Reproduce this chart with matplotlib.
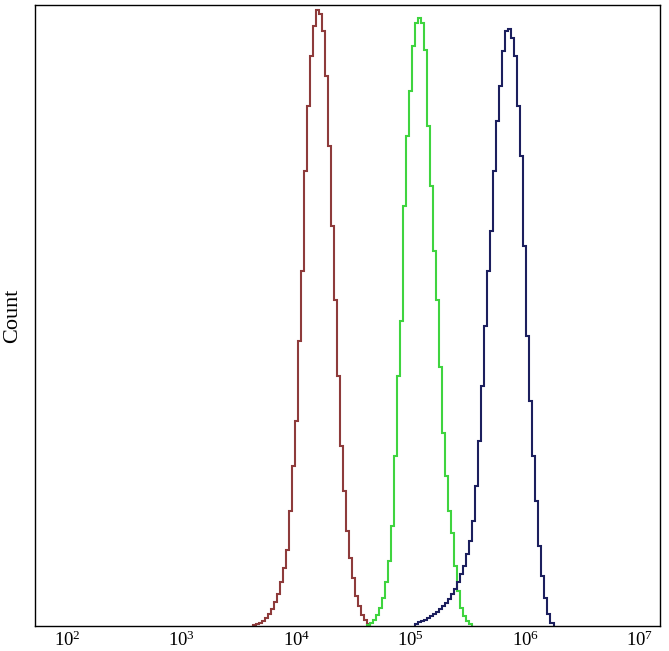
import numpy as np
import matplotlib
matplotlib.use("Agg")
import matplotlib.pyplot as plt
from matplotlib.ticker import FixedLocator, LogFormatterMathtext, NullLocator

# bin width in decades (log10) and first bin centre of each histogram
bin_width = 0.02618
red_start = 3.632
green_start = 4.627
blue_start = 5.054

red_counts = [1, 2, 3, 5, 8, 12, 17, 24, 32, 44, 58, 76, 115, 160, 205, 285, 355,
              455, 520, 570, 600, 616, 612, 595, 550, 480, 400, 326, 250, 180, 135,
              95, 68, 48, 30, 20, 11, 6, 2]
green_counts = [1, 3, 6, 11, 18, 28, 44, 65, 100, 170, 250, 305, 420, 490, 535, 580,
                603, 608, 603, 576, 500, 440, 375, 326, 259, 193, 150, 115, 93, 60,
                35, 18, 10, 5, 2]
blue_counts = [2, 4, 5, 6, 8, 10, 12, 14, 17, 20, 23, 27, 32, 37, 44, 52, 60, 72, 85,
               105, 140, 185, 240, 300, 355, 395, 455, 505, 540, 575, 595, 597, 588,
               570, 520, 470, 380, 290, 225, 170, 125, 80, 50, 28, 12, 3]

x_ticks = [1e2, 1e3, 1e4, 1e5, 1e6, 1e7]
x_range = (10 ** 1.7208, 10 ** 7.1745)
y_range = (0, 621)

plt.rcParams['mathtext.fontset'] = 'stix'
plt.rcParams['font.family'] = ['Liberation Serif', 'DejaVu Serif']

fig = plt.figure(figsize=(6.69, 6.51), dpi=100)
ax = fig.add_axes([35 / 669, 25 / 651, 625 / 669, 621 / 651])


def edges(start, n):
    return 10 ** (start - bin_width / 2 + np.arange(n + 1) * bin_width)


series = [
    (red_start, red_counts, '#8e3b3b'),
    (green_start, green_counts, '#3fd43f'),
    (blue_start, blue_counts, '#1c1f5e'),
]
for start, counts, color in series:
    ax.stairs(counts, edges(start, len(counts)), color=color, lw=1.5, baseline=0)

ax.set_xscale('log')
ax.set_xlim(*x_range)
ax.set_ylim(*y_range)
ax.xaxis.set_major_locator(FixedLocator(x_ticks))
ax.xaxis.set_major_formatter(LogFormatterMathtext())
ax.xaxis.set_minor_locator(NullLocator())
ax.tick_params(axis='x', length=0, pad=3, labelsize=13.5)
ax.set_yticks([])
ax.set_ylabel('Count', fontsize=16, va='center')
ax.yaxis.set_label_coords(-0.035, 0.5)
for s in ax.spines.values():
    s.set_linewidth(1.0)
    s.set_color('black')

fig.savefig('out.png', dpi=100)
